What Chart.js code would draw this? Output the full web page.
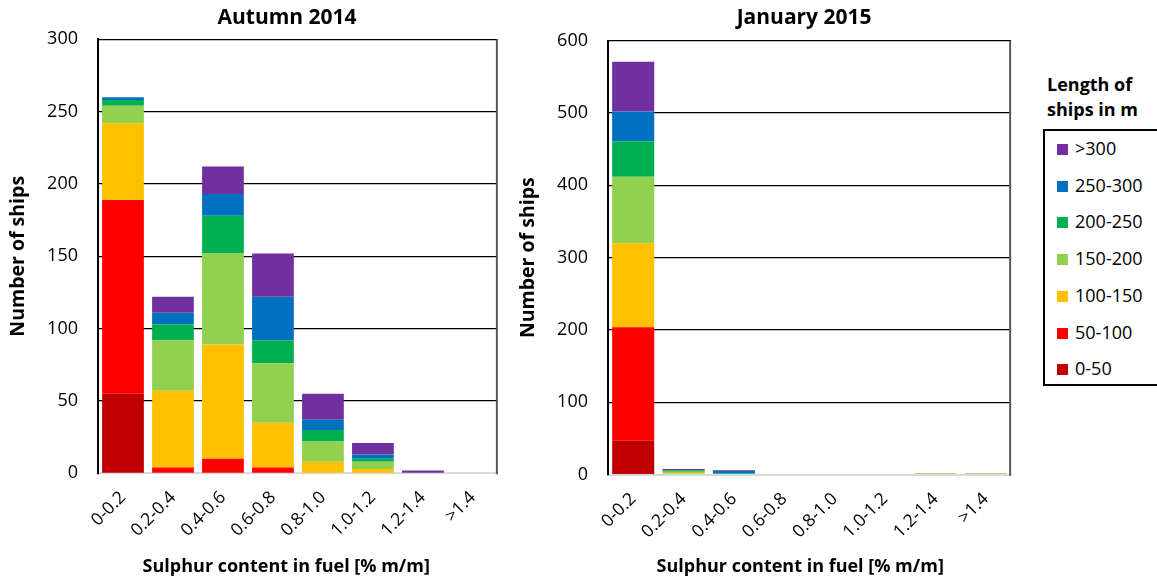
<!DOCTYPE html>
<html>
<head>
<meta charset="utf-8">
<script src="https://cdn.jsdelivr.net/npm/chart.js@4/dist/chart.umd.min.js"></script>
<style>
  html, body { margin:0; padding:0; background:#fff; }
  #wrap { position:relative; width:1157px; height:584px; overflow:hidden; font-family:'Open Sans', sans-serif; }
  canvas { position:absolute; top:0; }
  #legTitle { position:absolute; left:1047px; top:72px; font-weight:bold; font-size:18px; line-height:25px; color:#000; }
  #legBox { position:absolute; left:1043px; top:129px; width:112px; height:253px; border:2px solid #000; box-sizing:content-box; }
  .li { position:absolute; left:12px; font-size:18px; line-height:20px; color:#000; white-space:nowrap; }
  .li span.sw { display:inline-block; width:11px; height:11px; margin-right:7px; vertical-align:0px; }
</style>
</head>
<body>
<div id="wrap">
  <canvas id="c1" width="502" height="584" style="left:0"></canvas>
  <canvas id="c2" width="505" height="584" style="left:510px"></canvas>
  <div id="legTitle">Length of<br>ships in m</div>
  <div id="legBox"></div>
</div>
<script>
// ---- data ----
const categories = ['0-0.2','0.2-0.4','0.4-0.6','0.6-0.8','0.8-1.0','1.0-1.2','1.2-1.4','>1.4'];
const lengthClasses = ['0-50','50-100','100-150','150-200','200-250','250-300','>300'];
const classColors = ['#C00000','#FF0000','#FFC000','#92D050','#00B050','#0070C0','#7030A0'];

// Autumn 2014
const autumn_0_50    = [55, 0,  0,  0,  0, 0, 0, 0];
const autumn_50_100  = [134,4, 10,  4,  0, 0, 0, 0];
const autumn_100_150 = [53, 53, 79, 31, 8, 3, 0, 0];
const autumn_150_200 = [12, 35, 63, 41, 14,5, 0, 0];
const autumn_200_250 = [4,  11, 26, 16, 8, 2, 0, 0];
const autumn_250_300 = [2,  8,  15, 30, 7, 3, 0, 0];
const autumn_gt300   = [0,  11, 19, 30, 18,8, 2, 0];

// January 2015
const jan_0_50    = [47, 0, 0, 0, 0, 0, 0, 0];
const jan_50_100  = [157,0, 0, 0, 0, 0, 0, 0];
const jan_100_150 = [116,2, 0, 0, 0, 0, 0, 0];
const jan_150_200 = [92, 2, 1, 0, 0, 0, 2, 2];
const jan_200_250 = [49, 2, 1, 0, 0, 0, 0, 0];
const jan_250_300 = [41, 0, 3, 0, 0, 0, 0, 0];
const jan_gt300   = [69, 2, 1, 0, 0, 0, 0, 0];

const autumnTicks = [0,50,100,150,200,250,300];
const janTicks = [0,100,200,300,400,500,600];

// ---- build ----
Chart.defaults.font.family = "'Open Sans', sans-serif";
Chart.defaults.color = '#000';

const autumnSeries = [autumn_0_50, autumn_50_100, autumn_100_150, autumn_150_200, autumn_200_250, autumn_250_300, autumn_gt300];
const janSeries = [jan_0_50, jan_50_100, jan_100_150, jan_150_200, jan_200_250, jan_250_300, jan_gt300];

function makeDatasets(series) {
  return series.map((d, i) => ({
    label: lengthClasses[i],
    data: d,
    backgroundColor: classColors[i],
    borderWidth: 0,
    barPercentage: 0.835,
    categoryPercentage: 1.0
  }));
}

const rightBorder = {
  id: 'rightBorder',
  afterDraw(chart) {
    const {ctx, chartArea} = chart;
    ctx.save();
    ctx.strokeStyle = '#595959';
    ctx.lineWidth = 2;
    ctx.beginPath();
    ctx.moveTo(chartArea.right - 1, chartArea.top);
    ctx.lineTo(chartArea.right - 1, chartArea.bottom + 1);
    ctx.stroke();
    ctx.restore();
  }
};

function makeChart(id, title, series, ticks, opts) {
  const max = ticks[ticks.length - 1];
  const step = ticks[1] - ticks[0];
  return new Chart(document.getElementById(id), {
    type: 'bar',
    data: { labels: categories, datasets: makeDatasets(series) },
    plugins: [rightBorder],
    options: {
      responsive: false,
      animation: false,
      devicePixelRatio: 1,
      layout: { padding: { left: 0, right: 2, top: 0, bottom: 0 } },
      plugins: {
        legend: { display: false },
        tooltip: { enabled: false },
        title: {
          display: true, text: title + opts.titlePad, color: '#000', fullSize: false,
          font: { size: 21, weight: 'bold' },
          padding: { top: opts.titleTop, bottom: opts.titleBottom }
        }
      },
      scales: {
        x: {
          stacked: true,
          grid: { display: false, drawTicks: false },
          border: { display: true, color: '#d9d9d9', width: 2 },
          ticks: { minRotation: 45, maxRotation: 45, padding: 14, font: { size: 17.5 }, color: '#000' },
          title: { display: true, text: 'Sulphur content in fuel [% m/m]' + opts.xPad, font: { size: 18, weight: 'bold' }, color: '#000', padding: { top: 0, bottom: 6 } },
          afterFit(scale) { scale.height = opts.xHeight; }
        },
        y: {
          stacked: true,
          min: 0, max: max,
          grid: {
            drawTicks: false,
            color: (c) => (c.tick && c.tick.value === 0) ? 'rgba(0,0,0,0)' : '#000',
            lineWidth: 1.3
          },
          border: { display: true, color: '#000', width: 2 },
          ticks: { stepSize: step, padding: 20, font: { size: 18 }, color: '#000' },
          title: { display: true, text: 'Number of ships', font: { size: 19.5, weight: 'bold' }, color: '#000', padding: { top: 7, bottom: 0 } },
          afterFit(scale) { scale.width = 98; }
        }
      }
    }
  });
}

makeChart('c1', 'Autumn 2014', autumnSeries, autumnTicks, { titleTop: 5.4, titleBottom: 8.7, xHeight: 110.7, titlePad: '\u00a0\u00a0\u00a0\u00a0', xPad: '\u00a0\u00a0\u00a0\u00a0\u00a0' });
makeChart('c2', 'January 2015', janSeries, janTicks, { titleTop: 5.4, titleBottom: 10.1, xHeight: 109.3, titlePad: '\u00a0\u00a0', xPad: '\u00a0\u00a0\u00a0\u00a0' });

// ---- legend (HTML, built from arrays) ----
const box = document.getElementById('legBox');
const order = lengthClasses.map((_, i) => i).reverse();
order.forEach((idx, k) => {
  const el = document.createElement('div');
  el.className = 'li';
  el.style.top = (7 + k * 36.7) + 'px';
  el.innerHTML = '<span class="sw" style="background:' + classColors[idx] + '"></span>' + lengthClasses[idx];
  box.appendChild(el);
});
</script>
</body>
</html>
